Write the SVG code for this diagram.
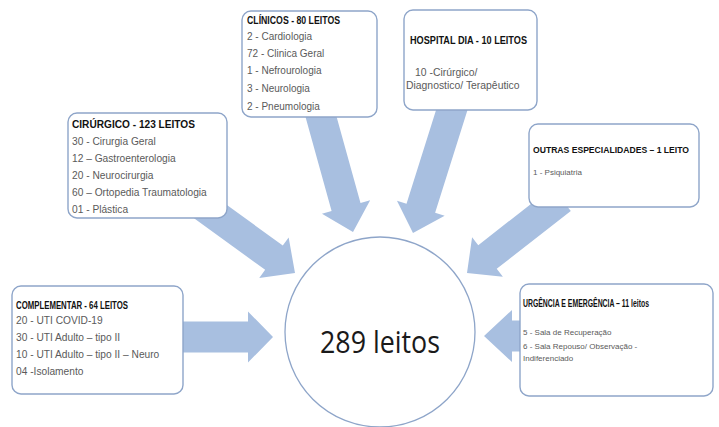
<svg xmlns="http://www.w3.org/2000/svg" width="719" height="427" viewBox="0 0 719 427">
<style>
.arrow{fill:#a8bfe0;stroke:none}
.box{fill:#ffffff;stroke:#8ea5c9;stroke-width:1.4}
.ttl{font-family:"Liberation Sans",Arial,sans-serif;font-weight:bold;fill:#111111}
.txt{font-family:"Liberation Sans",Arial,sans-serif;fill:#5a5a5a}
.big{font-family:"Open Sans","Liberation Sans",sans-serif;fill:#1a1a1a}
</style>
<rect width="719" height="427" fill="#ffffff"/>
<g id="connectors">
<path class="arrow" transform="translate(295,273) rotate(36)" d="M-125,-15 L-26,-15 L-26,-25 L0,0 L-26,25 L-26,15 L-125,15 Z"/>
<path class="arrow" transform="translate(353,232) rotate(74.5)" d="M-135,-15 L-26,-15 L-26,-25 L0,0 L-26,25 L-26,15 L-135,15 Z"/>
<path class="arrow" transform="translate(413,233) rotate(107.5)" d="M-135,-15 L-26,-15 L-26,-25 L0,0 L-26,25 L-26,15 L-135,15 Z"/>
<path class="arrow" transform="translate(467,273) rotate(142)" d="M-120,-15 L-26,-15 L-26,-25 L0,0 L-26,25 L-26,15 L-120,15 Z"/>
<path class="arrow" transform="translate(273,337)" d="M-100,-15.5 L-25,-15.5 L-25,-25.5 L0,0 L-25,25.5 L-25,15.5 L-100,15.5 Z"/>
<path class="arrow" transform="translate(484,336) rotate(180)" d="M-50,-15.5 L-28,-15.5 L-28,-26 L0,0 L-28,26 L-28,15.5 L-50,15.5 Z"/>
</g>
<g id="center">
<circle cx="380" cy="332" r="95" fill="#ffffff" stroke="#8ea5c9" stroke-width="1.3"/>
<text class="big" x="380" y="353" font-size="31" text-anchor="middle" textLength="120" lengthAdjust="spacingAndGlyphs">289 leitos</text>
</g>
<g id="cirurgico">
<rect class="box" x="68" y="113" width="159" height="105" rx="9"/>
<text class="ttl" x="72" y="128" font-size="11" textLength="123" lengthAdjust="spacingAndGlyphs">CIRÚRGICO - 123 LEITOS</text>
<text class="txt" font-size="10.2">
<tspan x="72" y="145">30 - Cirurgia Geral</tspan>
<tspan x="72" y="162">12 – Gastroenterologia</tspan>
<tspan x="72" y="179">20 - Neurocirurgia</tspan>
<tspan x="72" y="196">60 – Ortopedia Traumatologia</tspan>
<tspan x="72" y="213">01 - Plástica</tspan>
</text>
</g>
<g id="clinicos">
<rect class="box" x="242" y="11" width="135" height="106" rx="9"/>
<text class="ttl" x="247" y="24" font-size="10.5" textLength="93" lengthAdjust="spacingAndGlyphs">CLÍNICOS - 80 LEITOS</text>
<text class="txt" font-size="10">
<tspan x="247" y="40">2 - Cardiologia</tspan>
<tspan x="247" y="57">72 - Clinica Geral</tspan>
<tspan x="247" y="74">1 - Nefrourologia</tspan>
<tspan x="247" y="92">3 - Neurologia</tspan>
<tspan x="247" y="110">2 - Pneumologia</tspan>
</text>
</g>
<g id="hospital-dia">
<rect class="box" x="404" y="10" width="133" height="100" rx="9"/>
<text class="ttl" x="410" y="44" font-size="10.5" textLength="117" lengthAdjust="spacingAndGlyphs">HOSPITAL DIA - 10  LEITOS</text>
<text class="txt" font-size="10.4">
<tspan x="415" y="76">10 -Cirúrgico/</tspan>
<tspan x="406" y="89">Diagnostico/ Terapêutico</tspan>
</text>
</g>
<g id="outras">
<rect class="box" x="529" y="124" width="170" height="83" rx="9"/>
<text class="ttl" x="533" y="153" font-size="8.6" textLength="156" lengthAdjust="spacingAndGlyphs">OUTRAS ESPECIALIDADES – 1 LEITO</text>
<text class="txt" font-size="8" x="533" y="175">1 - Psiquiatria</text>
</g>
<g id="complementar">
<rect class="box" x="12" y="286" width="171" height="108" rx="9"/>
<text class="ttl" x="16" y="309" font-size="10.5" textLength="112" lengthAdjust="spacingAndGlyphs">COMPLEMENTAR - 64 LEITOS</text>
<text class="txt" font-size="10.2">
<tspan x="16" y="324">20 - UTI COVID-19</tspan>
<tspan x="16" y="341">30 - UTI Adulto – tipo II</tspan>
<tspan x="16" y="358">10 - UTI Adulto – tipo II – Neuro</tspan>
<tspan x="16" y="375">04 -Isolamento</tspan>
</text>
</g>
<g id="urgencia">
<rect class="box" x="520" y="284" width="193" height="112" rx="9"/>
<text class="ttl" x="523" y="307" font-size="10.5" textLength="126" lengthAdjust="spacingAndGlyphs">URGÊNCIA E EMERGÊNCIA – 11 leitos</text>
<text class="txt" font-size="8">
<tspan x="523" y="335">5 - Sala de Recuperação</tspan>
<tspan x="523" y="349">6 - Sala Repouso/ Observação -</tspan>
<tspan x="523" y="361">Indiferenciado</tspan>
</text>
</g>
</svg>
